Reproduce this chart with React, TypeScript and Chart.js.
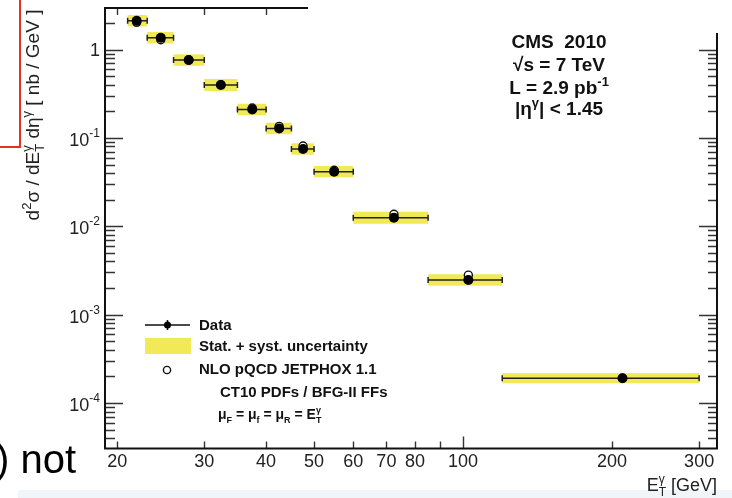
import React, { useEffect, useRef } from 'react';
import { Chart, registerables } from 'chart.js';

Chart.register(...registerables);

// ---------------- data ----------------
const binLow = [21, 23, 26, 30, 35, 40, 45, 50, 60, 85, 120];
const binHigh = [23, 26, 30, 35, 40, 45, 50, 60, 85, 120, 300];
const etMean = [21.9, 24.5, 27.9, 32.4, 37.5, 42.5, 47.5, 54.9, 72.5, 102.5, 210];
const dataXs = [2.12, 1.36, 0.76, 0.397, 0.21, 0.128, 0.0749, 0.0415, 0.0125, 0.00247, 0.000191];
const relUnc = [0.16, 0.16, 0.16, 0.17, 0.16, 0.16, 0.16, 0.16, 0.17, 0.16, 0.14];
const nloXs = [2.03, 1.29, 0.76, 0.4, 0.218, 0.135, 0.081, 0.0431, 0.0137, 0.0028, 0.000191];

const xTickLabels = [20, 30, 40, 50, 60, 70, 80, 100, 200, 300];
const yTickValues = [1, 0.1, 0.01, 0.001, 0.0001];
const yTickExps = ['', '-1', '-2', '-3', '-4'];

const X_MIN = 18.9;
const X_MAX = 326;
const Y_MIN = 3.06e-5;
const Y_MAX = 2.95;

const FONT = '"Liberation Sans", Arial, Helvetica, sans-serif';
const YELLOW = '#f2e956';
const INK = '#111';

type Piece = { t: string; k?: 'sup' | 'sub'; stack?: boolean };

function drawRich(
  ctx: CanvasRenderingContext2D,
  pieces: Piece[],
  x: number,
  y: number,
  size: number,
  bold: boolean,
  align: 'left' | 'right' | 'center'
) {
  const small = Math.round(size * 0.66);
  const f = (s: number) => `${bold ? 'bold ' : ''}${s}px ${FONT}`;
  const widths = pieces.map((p) => {
    ctx.font = f(p.k ? small : size);
    return ctx.measureText(p.t).width;
  });
  const xs: number[] = [];
  let cx = 0;
  for (let i = 0; i < pieces.length; i++) {
    xs[i] = cx;
    if (pieces[i].stack && i + 1 < pieces.length) {
      xs[i + 1] = cx;
      cx += Math.max(widths[i], widths[i + 1]);
      i++;
    } else {
      cx += widths[i];
    }
  }
  const start = align === 'left' ? x : align === 'right' ? x - cx : x - cx / 2;
  ctx.textAlign = 'left';
  ctx.textBaseline = 'alphabetic';
  pieces.forEach((p, i) => {
    ctx.font = f(p.k ? small : size);
    const dy = p.k === 'sup' ? -size * 0.42 : p.k === 'sub' ? size * 0.28 : 0;
    ctx.fillText(p.t, start + xs[i], y + dy);
  });
}

const isNice = (v: number) => {
  const m = v / Math.pow(10, Math.floor(Math.log10(v) + 1e-9));
  return Math.abs(m - Math.round(m)) < 1e-6;
};
const isDecade = (v: number) => Math.abs(Math.log10(v) - Math.round(Math.log10(v))) < 1e-6;

const bandPlugin = {
  id: 'bands',
  beforeDatasetsDraw(chart: any) {
    const { ctx, chartArea, scales } = chart;
    const x = scales.x;
    const y = scales.y;
    ctx.save();
    ctx.beginPath();
    ctx.rect(chartArea.left, chartArea.top, chartArea.right - chartArea.left, chartArea.bottom - chartArea.top);
    ctx.clip();
    for (let i = 0; i < dataXs.length; i++) {
      const xl = x.getPixelForValue(binLow[i]);
      const xr = x.getPixelForValue(binHigh[i]);
      const yt = y.getPixelForValue(dataXs[i] * (1 + relUnc[i]));
      const yb = y.getPixelForValue(dataXs[i] / (1 + relUnc[i]));
      ctx.fillStyle = YELLOW;
      ctx.fillRect(xl, yt, xr - xl, yb - yt);
    }
    ctx.strokeStyle = '#222';
    ctx.lineWidth = 1.5;
    for (let i = 0; i < dataXs.length; i++) {
      const xl = x.getPixelForValue(binLow[i]);
      const xr = x.getPixelForValue(binHigh[i]);
      const yc = y.getPixelForValue(dataXs[i]);
      ctx.beginPath();
      ctx.moveTo(xl, yc);
      ctx.lineTo(xr, yc);
      ctx.moveTo(xl, yc - 3);
      ctx.lineTo(xl, yc + 3);
      ctx.moveTo(xr, yc - 3);
      ctx.lineTo(xr, yc + 3);
      ctx.stroke();
    }
    ctx.restore();
  },
};

const overlayPlugin = {
  id: 'overlay',
  afterDraw(chart: any) {
    const { ctx, chartArea, scales } = chart;
    const x = scales.x;
    const y = scales.y;
    const { left, right, top, bottom } = chartArea;
    ctx.save();

    // ticks (ROOT style, inside the frame)
    ctx.strokeStyle = '#333';
    ctx.lineWidth = 1.4;
    const yTicks: number[] = (y.ticks || []).map((t: any) => t.value).filter((v: number) => v > 0 && isNice(v));
    yTicks.forEach((v) => {
      const p = Math.round(y.getPixelForValue(v)) + 0.5;
      if (p < top || p > bottom) return;
      const major = isDecade(v);
      ctx.beginPath();
      ctx.moveTo(left, p);
      ctx.lineTo(left + (major ? 18 : 10), p);
      ctx.moveTo(right, p);
      ctx.lineTo(right - (major ? 18 : 9), p);
      ctx.stroke();
    });
    const xTicks: number[] = (x.ticks || []).map((t: any) => t.value).filter((v: number) => v > 0 && isNice(v));
    xTicks.forEach((v) => {
      const p = Math.round(x.getPixelForValue(v)) + 0.5;
      if (p < left || p > right) return;
      const major = isDecade(v);
      ctx.beginPath();
      ctx.moveTo(p, bottom);
      ctx.lineTo(p, bottom - (major ? 12 : 7));
      ctx.moveTo(p, top);
      ctx.lineTo(p, top + (major ? 12 : 7));
      ctx.stroke();
    });

    // frame
    ctx.strokeStyle = INK;
    ctx.lineWidth = 2;
    ctx.strokeRect(left, top, right - left, bottom - top);

    // y tick labels
    ctx.fillStyle = '#222';
    yTickValues.forEach((v, i) => {
      const p = y.getPixelForValue(v);
      const rx = left - 5;
      const e = yTickExps[i];
      if (!e) {
        ctx.font = `18px ${FONT}`;
        ctx.textAlign = 'right';
        ctx.textBaseline = 'alphabetic';
        ctx.fillText('1', rx, p + 6);
      } else {
        ctx.font = `12px ${FONT}`;
        const w2 = ctx.measureText(e).width;
        ctx.textAlign = 'right';
        ctx.textBaseline = 'alphabetic';
        ctx.fillText(e, rx, p - 1);
        ctx.font = `18px ${FONT}`;
        ctx.fillText('10', rx - w2, p + 8);
      }
    });

    // axis titles
    ctx.fillStyle = '#222';
    ctx.save();
    ctx.translate(39, 115);
    ctx.rotate(-Math.PI / 2);
    drawRich(
      ctx,
      [
        { t: 'd' },
        { t: '2', k: 'sup' },
        { t: 'σ / dE' },
        { t: 'T', k: 'sub', stack: true },
        { t: 'γ', k: 'sup' },
        { t: ' dη' },
        { t: 'γ', k: 'sup' },
        { t: ' [ nb / GeV ]' },
      ],
      0,
      0,
      19,
      false,
      'center'
    );
    ctx.restore();
    drawRich(
      ctx,
      [{ t: 'E' }, { t: 'T', k: 'sub', stack: true }, { t: 'γ', k: 'sup' }, { t: ' [GeV]' }],
      right,
      491,
      18,
      false,
      'right'
    );

    // CMS label
    ctx.fillStyle = INK;
    const cx = 559;
    drawRich(ctx, [{ t: 'CMS  2010' }], cx, 48, 19, true, 'center');
    drawRich(ctx, [{ t: '√s = 7 TeV' }], cx, 71, 19, true, 'center');
    drawRich(ctx, [{ t: 'L = 2.9 pb' }, { t: '-1', k: 'sup' }], cx, 94, 19, true, 'center');
    drawRich(ctx, [{ t: '|η' }, { t: 'γ', k: 'sup' }, { t: '| < 1.45' }], cx, 115, 19, true, 'center');

    // legend
    const lx0 = 145;
    const lx1 = 190;
    const lmid = (lx0 + lx1) / 2;
    ctx.strokeStyle = INK;
    ctx.lineWidth = 1.5;
    ctx.beginPath();
    ctx.moveTo(lx0, 325);
    ctx.lineTo(lx1, 325);
    ctx.moveTo(lmid, 320);
    ctx.lineTo(lmid, 330);
    ctx.stroke();
    ctx.fillStyle = '#000';
    ctx.beginPath();
    ctx.arc(lmid, 325, 3.5, 0, Math.PI * 2);
    ctx.fill();
    ctx.fillStyle = YELLOW;
    ctx.fillRect(lx0, 338, lx1 - lx0 + 1, 16);
    ctx.strokeStyle = INK;
    ctx.lineWidth = 1.4;
    ctx.fillStyle = '#fff';
    ctx.beginPath();
    ctx.arc(lmid - 0.5, 370, 3.6, 0, Math.PI * 2);
    ctx.fill();
    ctx.stroke();
    ctx.fillStyle = INK;
    drawRich(ctx, [{ t: 'Data' }], 199, 330, 15, true, 'left');
    drawRich(ctx, [{ t: 'Stat. + syst. uncertainty' }], 199, 351, 15, true, 'left');
    drawRich(ctx, [{ t: 'NLO pQCD JETPHOX 1.1' }], 199, 374, 15, true, 'left');
    drawRich(ctx, [{ t: 'CT10 PDFs / BFG-II FFs' }], 220, 397, 15, true, 'left');
    drawRich(
      ctx,
      [
        { t: 'μ' },
        { t: 'F', k: 'sub' },
        { t: ' = μ' },
        { t: 'f', k: 'sub' },
        { t: ' = μ' },
        { t: 'R', k: 'sub' },
        { t: ' = E' },
        { t: 'T', k: 'sub', stack: true },
        { t: 'γ', k: 'sup' },
      ],
      218,
      419,
      14,
      true,
      'left'
    );

    ctx.restore();
  },
};

export default function App() {
  const ref = useRef<HTMLCanvasElement | null>(null);

  useEffect(() => {
    if (!ref.current) return;
    const chart = new Chart(ref.current, {
      type: 'scatter',
      data: {
        datasets: [
          {
            label: 'Data',
            data: etMean.map((v, i) => ({ x: v, y: dataXs[i] })),
            pointRadius: 5,
            pointBackgroundColor: '#000',
            pointBorderColor: '#000',
            pointBorderWidth: 0,
            showLine: false,
          },
          {
            label: 'NLO pQCD JETPHOX 1.1',
            data: etMean.map((v, i) => ({ x: v, y: nloXs[i] })),
            pointRadius: 4,
            pointBackgroundColor: '#fff',
            pointBorderColor: '#111',
            pointBorderWidth: 1.4,
            showLine: false,
          },
        ],
      },
      options: {
        responsive: false,
        animation: false,
        devicePixelRatio: 1,
        layout: { padding: { top: 8, right: 15, left: 0, bottom: 0 } },
        plugins: { legend: { display: false }, tooltip: { enabled: false } },
        scales: {
          x: {
            type: 'logarithmic',
            min: X_MIN,
            max: X_MAX,
            grid: { display: false, drawTicks: false },
            border: { display: false },
            ticks: {
              autoSkip: false,
              maxRotation: 0,
              minRotation: 0,
              padding: 3,
              color: '#222',
              font: { family: FONT, size: 18 },
              callback: (v: any) => {
                const n = Number(v);
                const m = xTickLabels.find((t) => Math.abs(t - n) / t < 1e-6);
                return m !== undefined ? String(m) : '';
              },
            },
            afterFit: (s: any) => {
              s.height = 49.5;
            },
          },
          y: {
            type: 'logarithmic',
            min: Y_MIN,
            max: Y_MAX,
            grid: { display: false, drawTicks: false },
            border: { display: false },
            ticks: { display: false },
            afterFit: (s: any) => {
              s.width = 105;
            },
          },
        },
      } as any,
      plugins: [bandPlugin, overlayPlugin],
    });
    return () => chart.destroy();
  }, []);

  return (
    <div style={{ position: 'fixed', left: 0, top: 0, width: 732, height: 498, background: '#fff', overflow: 'hidden' }}>
      <div style={{ position: 'absolute', left: 18, top: 490, width: 714, height: 8, background: '#f0f5fa' }} />
      <canvas ref={ref} width={732} height={498} style={{ position: 'absolute', left: 0, top: 0, width: 732, height: 498 }} />
      <div style={{ position: 'absolute', left: 308, top: 0, width: 424, height: 33, background: '#fff' }} />
      <div style={{ position: 'absolute', left: 19, top: 0, width: 2, height: 148, background: '#e3321f' }} />
      <div style={{ position: 'absolute', left: 0, top: 146, width: 21, height: 2, background: '#e3321f' }} />
      <div
        style={{
          position: 'absolute',
          left: -4,
          top: 439,
          fontFamily: FONT,
          fontSize: 40,
          lineHeight: '40px',
          color: '#000',
          whiteSpace: 'nowrap',
        }}
      >
        ) not
      </div>
    </div>
  );
}
